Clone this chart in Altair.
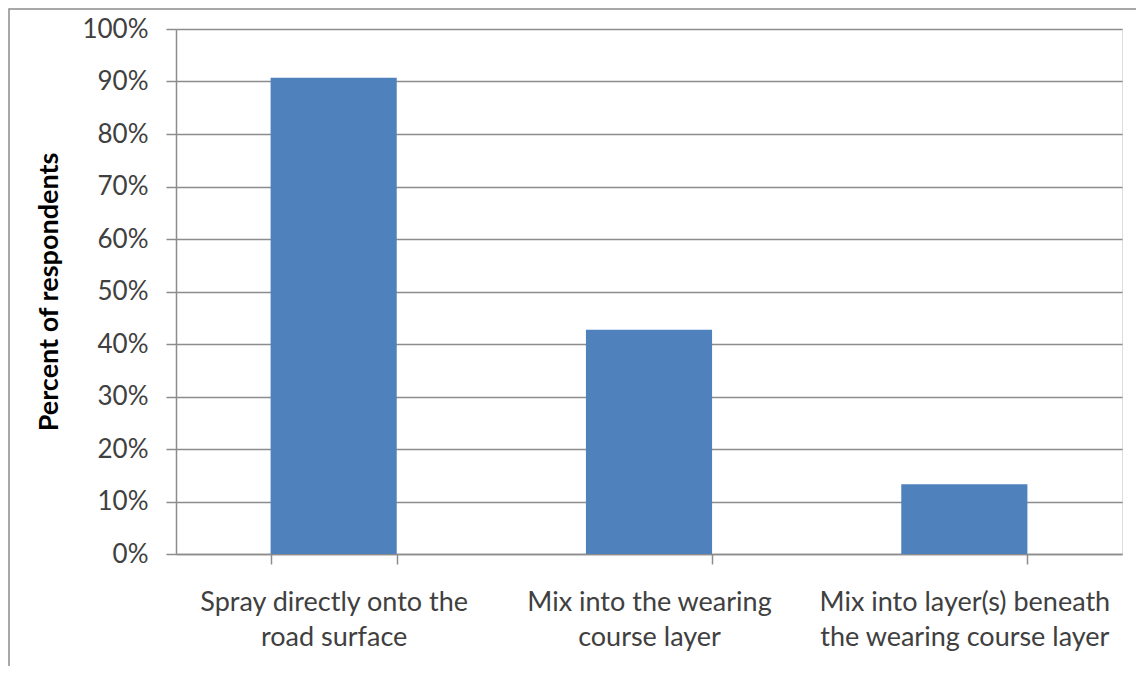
import altair as alt
import pandas as pd

categories = [
    "Spray directly onto the|road surface",
    "Mix into the wearing|course layer",
    "Mix into layer(s) beneath|the wearing course layer",
]
values = [90.7, 42.7, 13.3]  # percent of respondents
y_ticks = [0, 0.1, 0.2, 0.3, 0.4, 0.5, 0.6, 0.7, 0.8, 0.9, 1.0]

df = pd.DataFrame({"cat": categories, "pct": [v / 100 for v in values]})

FONT = "Lato"
GRAY = "#8c8c8c"
TEXT = "#404040"
W, H = 946, 525

bars = alt.Chart(df).mark_bar(color="#4f81bd").encode(
    x=alt.X(
        "cat:N",
        sort=categories,
        scale=alt.Scale(paddingInner=0.6, paddingOuter=0.3),
        axis=alt.Axis(
            title=None,
            labelAngle=0,
            labelExpr="split(datum.label, '|')",
            tickBand="extent",
            tickSize=10,
            tickColor=GRAY,
            tickWidth=1.5,
            domainColor=GRAY,
            domainWidth=1.5,
            labelPadding=25,
            labelLineHeight=35,
            labelFontSize=27,
            labelFont=FONT,
            labelColor=TEXT,
            labelLimit=400,
            grid=False,
        ),
    ),
    y=alt.Y(
        "pct:Q",
        scale=alt.Scale(domain=[0, 1]),
        axis=alt.Axis(
            values=y_ticks,
            format=".0%",
            title="Percent of respondents",
            titleFont=FONT,
            titleFontSize=27,
            titleFontWeight="bold",
            titleColor="#000000",
            titleAngle=-90,
            titleX=-127,
            titleY=H / 2,
            titleAlign="center",
            titleBaseline="middle",
            labelFont=FONT,
            labelFontSize=26,
            labelColor=TEXT,
            labelPadding=18,
            tickSize=10,
            tickColor=GRAY,
            tickWidth=1.5,
            domainColor=GRAY,
            domainWidth=1.5,
            grid=True,
            gridColor=GRAY,
            gridWidth=1.5,
        ),
    ),
)

frame = alt.Chart(pd.DataFrame({"a": [0]})).mark_rect(
    fill="transparent", stroke=GRAY, strokeWidth=1.5
).encode(
    x=alt.value(-167),
    x2=alt.value(W + 60),
    y=alt.value(-20),
    y2=alt.value(H + 200),
)

chart = alt.layer(frame, bars).properties(
    width=W,
    height=H,
    autosize=alt.AutoSizeParams(type="none"),
    padding={"left": 168, "top": 21, "right": 14, "bottom": 112},
).configure_view(stroke="transparent").configure(background="white")

chart.save("out.html", embed_options={"renderer": "svg", "actions": False})
